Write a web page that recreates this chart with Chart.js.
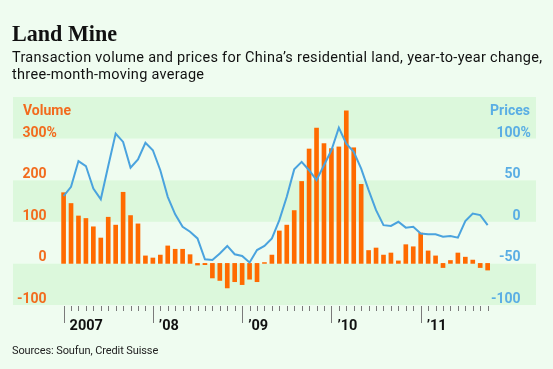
<!DOCTYPE html>
<html>
<head>
<meta charset="utf-8">
<script src="https://cdn.jsdelivr.net/npm/chart.js@4"></script>
<style>
html,body{margin:0;padding:0;background:#effcf0;}
#wrap{position:relative;width:553px;height:369px;overflow:hidden;background:#effcf0;}
#chart{position:absolute;left:0;top:0;}
.title{position:absolute;left:12px;top:21px;font:bold 24px/24px "Liberation Serif",serif;color:#111;white-space:nowrap;transform-origin:0 0;}
.sub{position:absolute;left:12px;top:50px;width:545px;font:14.5px/16.5px Roboto,sans-serif;letter-spacing:0.3px;color:#111;}
.src{position:absolute;left:12px;top:344px;font:11px/13px Roboto,sans-serif;letter-spacing:-0.1px;color:#222;}
</style>
</head>
<body>
<div id="wrap">
  <canvas id="chart" width="553" height="369"></canvas>
  <div class="title" id="title">Land Mine</div>
  <div class="sub">Transaction volume and prices for China’s residential land, year-to-year change,<br>three-month-moving average</div>
  <div class="src">Sources: Soufun, Credit Suisse</div>
</div>
<script>
// Monthly data, Jan 2007 .. Oct 2011 (year-to-year change, %)
const volume = [170,144,114,108,88,61,111,92,171,115,95,18,
  13,20,42,34,34,21,-4,-3,-35,-41,-59,-44,
  -51,-38,-44,2,20,78,92,127,197,275,325,288,
  276,280,367,278,190,31,37,20,25,6,45,40,
  73,30,18,-10,7,25,15,8,-10,-16];
const prices = [31,42,73,67,40,27,67,106,96,65,75,95,
  86,62,30,9,-6,-12,-20,-45,-46,-38,-29,-39,
  -41,-49,-34,-29,-20,2,30,63,72,62,50,68,
  86,113,94,84,64,38,14,-4,-5,0,-7,-6,
  -14,-15,-15,-18,-17,-19,1,10,8,-4];
const yearLabels = ['2007','’08','’09','’10','’11'];
const volumeTicks = [-100,0,100,200,300];
const priceTicks = [-100,-50,0,50,100];

const ORANGE = '#ff6a00', ORANGE_TXT = '#f26b1d';
const BLUE = '#4aa3de', BLUE_TXT = '#5aaee4';

// squeeze the headline to the condensed width of the original
const t = document.getElementById('title');
t.style.transform = 'scaleX(' + (105 / t.offsetWidth) + ')';

// background bands, tick labels and x axis
const decor = {
  id:'decor',
  beforeDatasetsDraw(chart){
    const {ctx, chartArea:a, scales:{y}} = chart;
    ctx.save();
    for(let v=y.min; v<y.max; v+=100){
      const dark = ((v - y.min)/100) % 2 === 0;
      ctx.fillStyle = dark ? '#dcf8dc' : '#effcf0';
      const top = y.getPixelForValue(v+100), bot = y.getPixelForValue(v);
      ctx.fillRect(a.left, top, a.right-a.left, bot-top);
    }
    ctx.restore();
  },
  afterDatasetsDraw(chart){
    const {ctx, chartArea:a, scales:{x, y, y2}} = chart;
    ctx.save();
    ctx.font = 'bold 14px Roboto, sans-serif';
    ctx.textBaseline = 'alphabetic';
    // left: volume
    ctx.fillStyle = ORANGE_TXT;
    volumeTicks.forEach(v=>{
      const py = y.getPixelForValue(v) - 2;
      ctx.textAlign = 'right';
      ctx.fillText(String(v), 46.5, py);
      if(v===300){ ctx.textAlign='left'; ctx.fillText('%', 46.5, py); }
    });
    ctx.textAlign = 'left';
    ctx.fillText('Volume', 23, 115);
    // right: prices
    ctx.fillStyle = BLUE_TXT;
    priceTicks.forEach(v=>{
      const py = y2.getPixelForValue(v) - 2;
      ctx.textAlign = 'right';
      ctx.fillText(String(v), 520.5, py);
      if(v===100){ ctx.textAlign='left'; ctx.fillText('%', 520.5, py); }
    });
    ctx.textAlign = 'right';
    ctx.fillText('Prices', 530, 115);
    // x axis ticks
    ctx.strokeStyle = '#7a7a7a';
    ctx.lineWidth = 1;
    volume.forEach((_,i)=>{
      const px = Math.round(x.getPixelForValue(i)) + 0.5;
      const major = i % 12 === 0;
      ctx.beginPath();
      ctx.moveTo(px, a.bottom + 1);
      ctx.lineTo(px, a.bottom + (major ? 18 : 6));
      ctx.stroke();
    });
    ctx.fillStyle = '#111';
    ctx.font = 'bold 14.5px Roboto, sans-serif';
    ctx.textAlign = 'left';
    yearLabels.forEach((t,k)=>{
      const px = x.getPixelForValue(k*12);
      ctx.fillText(t, px + 6, 330);
    });
    ctx.restore();
  }
};

new Chart(document.getElementById('chart'), {
  data:{
    datasets:[
      { type:'line', label:'Prices', yAxisID:'y2', order:0,
        data: prices.map((v,i)=>({x:i, y:v})),
        borderColor:BLUE, borderWidth:2, pointRadius:0, tension:0, fill:false },
      { type:'bar', label:'Volume', yAxisID:'y', order:1,
        data: volume.map((v,i)=>({x:i, y:v})),
        backgroundColor:ORANGE, barThickness:4 }
    ]
  },
  options:{
    responsive:false,
    animation:false,
    layout:{ padding:{ left:13, right:17, top:97, bottom:64 } },
    plugins:{ legend:{ display:false }, tooltip:{ enabled:false } },
    scales:{
      x:{ type:'linear', min:-6.8, max:63.5, offset:false, display:false },
      y:{ min:-100, max:400, display:false },
      y2:{ min:-100, max:150, display:false, position:'right' }
    }
  },
  plugins:[decor]
});
</script>
</body>
</html>
